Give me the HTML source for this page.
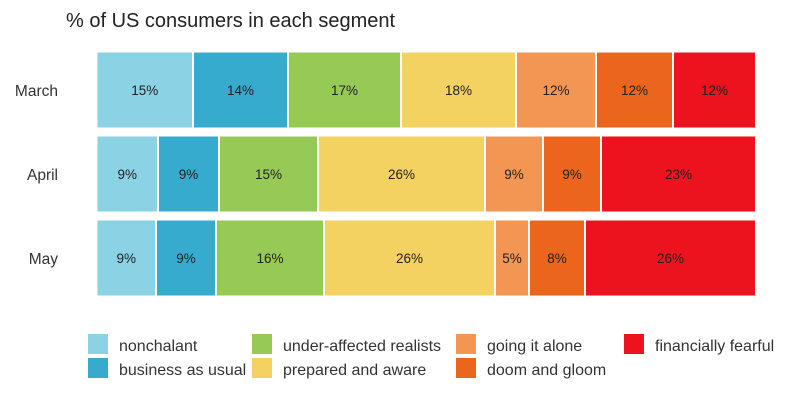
<!DOCTYPE html><html><head><style>body{margin:0;background:#fff}svg{font-family:"Liberation Sans",sans-serif}</style></head><body>
<svg width="800" height="400" xmlns="http://www.w3.org/2000/svg">
<text x="66" y="27" font-size="20" fill="#222">% of US consumers in each segment</text>
<g font-size="15.5" fill="#333" text-anchor="end">
<text x="58" y="96">March</text><text x="58" y="180">April</text><text x="58" y="264">May</text></g>
<g id="bars" font-size="13.5" fill="#222" text-anchor="middle"></g>
<g font-size="16" fill="#333">
<rect x="88" y="334" width="20" height="20" fill="#8ad2e4"/><text x="119" y="351">nonchalant</text>
<rect x="88" y="358" width="20" height="20" fill="#36abce"/><text x="119" y="375">business as usual</text>
<rect x="252" y="334" width="20" height="20" fill="#97ca54"/><text x="283" y="351">under-affected realists</text>
<rect x="252" y="358" width="20" height="20" fill="#f3d262"/><text x="283" y="375">prepared and aware</text>
<rect x="456" y="334" width="20" height="20" fill="#f39553"/><text x="487" y="351">going it alone</text>
<rect x="456" y="358" width="20" height="20" fill="#ec651c"/><text x="487" y="375">doom and gloom</text>
<rect x="624" y="334" width="20" height="20" fill="#ec121e"/><text x="655" y="351">financially fearful</text>
</g>
</svg>
<script>
const C=["#8ad2e4","#36abce","#97ca54","#f3d262","#f39553","#ec651c","#ec121e"];
const R=[[52,[97,193,288,401,516,596,673,756],["15%","14%","17%","18%","12%","12%","12%"]],
[136,[97,158,219,318,485,543,601,756],["9%","9%","15%","26%","9%","9%","23%"]],
[220,[97,156,216,324,495,529,585,756],["9%","9%","16%","26%","5%","8%","26%"]]];
let s="";
for(const [y,b,l] of R){for(let i=0;i<7;i++){const x0=b[i]+(i?1:0.5),x1=b[i+1]-1;
s+=`<rect x="${x0}" y="${y+0.5}" width="${x1-x0}" height="75" fill="${C[i]}"/>`;
s+=`<text x="${(x0+x1)/2}" y="${y+43}">${l[i]}</text>`;}}
document.getElementById("bars").innerHTML=s;
</script>
</body></html>
